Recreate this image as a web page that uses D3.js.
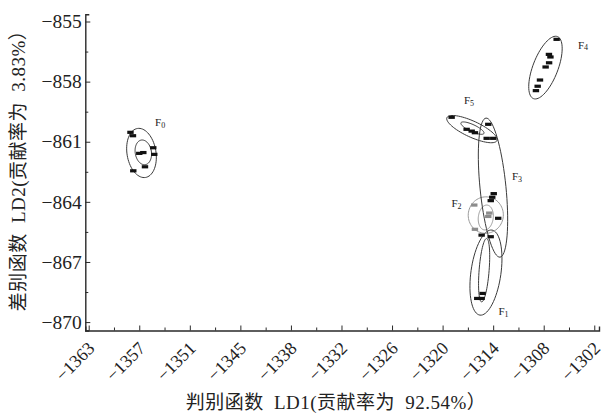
<!DOCTYPE html>
<html><head><meta charset="utf-8">
<script src="https://cdn.jsdelivr.net/npm/d3@7"></script>
<style>
html,body{margin:0;padding:0;background:#fff;}
svg{display:block;}
</style></head><body>
<svg id="chart" width="608" height="415"></svg>
<script>
// Discriminant scores (LD1, LD2) of each sample, by group
const f0LD1 = [-1357.96, -1357.66, -1356.90, -1356.41, -1355.21, -1355.09, -1356.21, -1357.62];
const f0LD2 = [-860.53, -860.70, -861.58, -861.54, -861.30, -861.63, -862.25, -862.45];
const f1LD1 = [-1315.59, -1314.50, -1315.47, -1316.12, -1315.59];
const f1LD2 = [-865.66, -865.74, -868.57, -868.82, -868.82];
const f2LD1 = [-1316.48, -1314.67, -1314.79, -1316.40];
const f2LD2 = [-864.16, -864.56, -864.73, -865.37];
const f3LD1 = [-1314.79, -1314.98, -1314.19, -1314.13, -1314.31, -1314.49, -1313.59];
const f3LD2 = [-860.13, -860.83, -860.83, -863.59, -863.77, -863.94, -864.82];
const f4LD1 = [-1306.54, -1307.47, -1307.29, -1307.45, -1307.87, -1308.55, -1308.83, -1309.04];
const f4LD2 = [-855.89, -856.64, -856.77, -857.06, -857.27, -857.92, -858.23, -858.45];
const f5LD1 = [-1319.21, -1317.40, -1316.79, -1316.40];
const f5LD2 = [-859.78, -860.38, -860.47, -860.55];

// Group names, label anchors and marker colours
const groupIds = ["0", "1", "2", "3", "4", "5"];
const labelLD1 = [-1355.0, -1313.56, -1319.23, -1311.93, -1303.97, -1317.72];
const labelLD2 = [-860.22, -869.65, -864.26, -862.91, -856.35, -859.12];
const groupColor = ["#111", "#111", "#8c8c8c", "#111", "#111", "#111"];

// Confidence ellipses: centre plus major / minor semi-axis vectors (data units)
const ellGroup = [0, 0, 1, 1, 2, 2, 3, 4, 5, 5];
const ellCX = [-1356.63, -1356.41, -1315.07, -1315.29, -1315.09, -1315.09, -1314.22, -1307.89, -1316.76, -1316.70];
const ellCY = [-861.56, -861.53, -867.53, -867.41, -864.66, -864.78, -863.29, -857.30, -860.37, -860.32];
const ellMajX = [-0.483, -0.241, 0.724, 0.302, 0.362, 0.181, 0.845, 1.448, 3.016, 1.387];
const ellMajY = [1.223, 0.614, 2.122, 1.583, 0.899, 0.619, -3.470, 1.548, -0.574, -0.265];
const ellMinX = [1.725, 0.965, 1.792, 0.601, 2.087, 0.893, 1.556, 1.405, -0.404, -0.177];
const ellMinY = [0.115, 0.065, -0.105, -0.019, -0.145, -0.045, 0.065, -0.227, -0.364, -0.159];

// Axis ticks
const xTickLabels = ["−1363", "−1357", "−1351", "−1345", "−1338", "−1332", "−1326", "−1320", "−1314", "−1308", "−1302"];
const yTickValues = [-855, -858, -861, -864, -867, -870];
const yTickLabels = ["−855", "−858", "−861", "−864", "−867", "−870"];
const xTitle = "判别函数 LD1(贡献率为 92.54%）";
const yTitle = "差别函数 LD2(贡献率为 3.83%）";

const groupsLD1 = [f0LD1, f1LD1, f2LD1, f3LD1, f4LD1, f5LD1];
const groupsLD2 = [f0LD2, f1LD2, f2LD2, f3LD2, f4LD2, f5LD2];

const svg = d3.select("#chart");
const x = d3.scaleLinear().domain([-1363.41, -1301.43]).range([85.3, 599]);
const y = d3.scaleLinear().domain([-870.42, -854.64]).range([330.5, 14.3]);
const serif = "'Liberation Serif', 'Times New Roman', 'Noto Sans CJK SC', serif";
const axisColor = "#2a2a2a";

// evenly spaced LD1 tick positions across the labelled range
const xTickVals = xTickLabels.map((_, i) => -1363 + i * (61 / (xTickLabels.length - 1)));
const xMinor = xTickVals.slice(1).map((v, i) => (v + xTickVals[i]) / 2);
const yMinor = yTickValues.slice(1).map((v, i) => (v + yTickValues[i]) / 2);

// ---- axes ----
const xAxisG = svg.append("g").attr("transform", `translate(0,${y.range()[0]})`)
  .call(d3.axisBottom(x).tickValues(xTickVals).tickFormat((d, i) => xTickLabels[i])
    .tickSizeInner(-5).tickSizeOuter(-4).tickPadding(0));
xAxisG.selectAll("text")
  .attr("y", null).attr("dy", null)
  .attr("transform", "translate(6.5,19) rotate(-45)")
  .attr("text-anchor", "end")
  .style("font-family", serif).style("font-size", "18px").attr("fill", "#222");

svg.append("g").attr("transform", `translate(0,${y.range()[0]})`)
  .call(d3.axisBottom(x).tickValues(xMinor).tickFormat("").tickSize(-3))
  .call(g => g.select(".domain").remove());

const yAxisG = svg.append("g").attr("transform", `translate(${x.range()[0]},0)`)
  .call(d3.axisLeft(y).tickValues(yTickValues).tickFormat((d, i) => yTickLabels[i])
    .tickSizeInner(-5).tickSizeOuter(-4).tickPadding(3.5));
yAxisG.selectAll("text")
  .style("font-family", serif).style("font-size", "19.5px").attr("fill", "#222");

svg.append("g").attr("transform", `translate(${x.range()[0]},0)`)
  .call(d3.axisLeft(y).tickValues(yMinor).tickFormat("").tickSize(-3))
  .call(g => g.select(".domain").remove());

svg.selectAll(".domain").attr("stroke", axisColor).attr("stroke-width", 1.4);
svg.selectAll(".tick line").attr("stroke", axisColor).attr("stroke-width", 1);

// ---- axis titles ----
svg.append("text").attr("x", 336).attr("y", 409).attr("text-anchor", "middle")
  .style("font-family", serif).style("font-size", "19px").style("word-spacing", "5px")
  .style("letter-spacing", "0.5px")
  .attr("fill", "#222").text(xTitle);
svg.append("text").attr("transform", "translate(25,166) rotate(-90)").attr("text-anchor", "middle")
  .style("font-family", serif).style("font-size", "19px").style("word-spacing", "5px")
  .style("letter-spacing", "0.5px")
  .attr("fill", "#222").text(yTitle);

// ---- ellipses ----
const ellLine = d3.line().curve(d3.curveLinearClosed);
const ellipsePath = i => {
  const pts = d3.range(0, 72).map(k => {
    const t = k / 72 * 2 * Math.PI;
    const vx = ellCX[i] + Math.cos(t) * ellMajX[i] + Math.sin(t) * ellMinX[i];
    const vy = ellCY[i] + Math.cos(t) * ellMajY[i] + Math.sin(t) * ellMinY[i];
    return [x(vx), y(vy)];
  });
  return ellLine(pts);
};
svg.append("g").selectAll("path").data(ellCX.map((_, i) => i)).join("path")
  .attr("d", ellipsePath)
  .attr("fill", "none")
  .attr("stroke", i => ellGroup[i] === 2 ? "#9a9a9a" : "#3a3a3a")
  .attr("stroke-width", 1);

// ---- sample markers ----
groupIds.forEach((g, gi) => {
  const pts = groupsLD1[gi].map((v, j) => [v, groupsLD2[gi][j]]);
  svg.append("g").selectAll("rect").data(pts).join("rect")
    .attr("x", d => x(d[0]) - 3.2).attr("y", d => y(d[1]) - 1.6)
    .attr("width", 6.4).attr("height", 3.2)
    .attr("fill", groupColor[gi]);
});

// ---- group labels ----
groupIds.forEach((g, gi) => {
  const t = svg.append("text").attr("x", x(labelLD1[gi])).attr("y", y(labelLD2[gi]))
    .style("font-family", serif).style("font-size", "11px").attr("fill", "#222");
  t.append("tspan").text("F");
  t.append("tspan").attr("dy", 1.5).style("font-size", "8px").text(g);
});
</script>
</body></html>
